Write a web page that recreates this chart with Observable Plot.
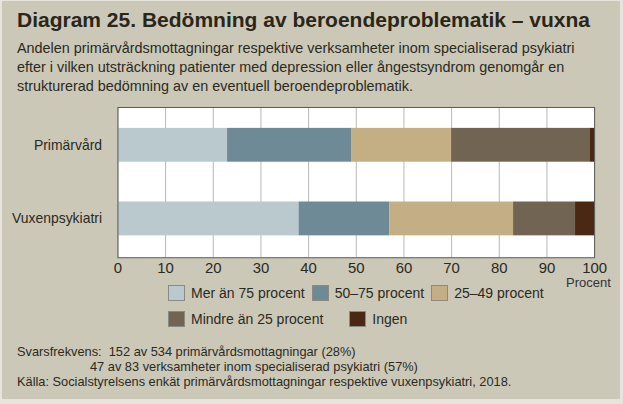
<!DOCTYPE html>
<html>
<head>
<meta charset="utf-8">
<script src="https://cdn.jsdelivr.net/npm/d3@7"></script>
<script src="https://cdn.jsdelivr.net/npm/@observablehq/plot@0.6"></script>
<style>
  html, body { margin: 0; padding: 0; background: #e6e4dc; }
  #box { position: absolute; left: 2px; top: 1px; width: 618px; height: 398px; background: #ccc8b7; overflow: hidden;
         font-family: "Liberation Sans", Arial, sans-serif; color: #222; }
  #title { position: absolute; left: 15px; top: 7px; font-size: 21px; font-weight: bold; color: #2a2618; white-space: nowrap; }
  #subtitle { position: absolute; left: 15px; top: 38px; font-size: 14.4px; line-height: 19px; white-space: nowrap; color: #2a2a22; }
  #chart { position: absolute; left: -2px; top: 101px; }
  #procent { position: absolute; left: 564px; top: 274px; font-size: 13px; color: #333; }
  .lrow { position: absolute; left: 166px; display: flex; align-items: center; font-size: 14px; white-space: nowrap; color: #2a2a22; }
  #row1 { top: 284px; gap: 7px; }
  #row2 { top: 310px; gap: 26px; }
  .item { display: flex; align-items: center; gap: 6px; }
  .sw { width: 17px; height: 16px; border: 1px solid #8a8a84; box-sizing: border-box; }
  #footer { position: absolute; left: 15px; top: 343px; font-size: 12.8px; line-height: 15px; white-space: nowrap; color: #2a2a22; }
</style>
</head>
<body>
<div id="box">
  <div id="title"></div>
  <div id="subtitle"></div>
  <div id="chart"></div>
  <div id="procent"></div>
  <div class="lrow" id="row1"></div>
  <div class="lrow" id="row2"></div>
  <div id="footer"></div>
</div>
<script>
const titleText = "Diagram 25. Bedömning av beroendeproblematik – vuxna";
const subtitleLines = [
  "Andelen primärvårdsmottagningar respektive verksamheter inom specialiserad psykiatri",
  "efter i vilken utsträckning patienter med depression eller ångestsyndrom genomgår en",
  "strukturerad bedömning av en eventuell beroendeproblematik."
];
const categories = ["Primärvård", "Vuxenpsykiatri"];
const levels = ["Mer än 75 procent", "50–75 procent", "25–49 procent", "Mindre än 25 procent", "Ingen"];
const colors = ["#b9c9ce", "#6f8a97", "#c4ae84", "#726453", "#4b2813"];
const primarvard = [23, 26, 21, 29, 1];
const vuxenpsykiatri = [38, 19, 26, 13, 4];
const xTicks = [0, 10, 20, 30, 40, 50, 60, 70, 80, 90, 100];
const xLabel = "Procent";
const footerLines = [
  "Svarsfrekvens:&nbsp; 152 av 534 primärvårdsmottagningar (28%)",
  "<span style=\"padding-left:73px\"></span>47 av 83 verksamheter inom specialiserad psykiatri (57%)",
  "Källa: Socialstyrelsens enkät primärvårdsmottagningar respektive vuxenpsykiatri, 2018."
];

document.getElementById("title").textContent = titleText;
document.getElementById("subtitle").innerHTML = subtitleLines.join("<br>");
document.getElementById("procent").textContent = xLabel;
document.getElementById("footer").innerHTML = footerLines.join("<br>");

const seriesByCat = [primarvard, vuxenpsykiatri];
const data = [];
categories.forEach((c, i) => levels.forEach((l, j) => data.push({cat: c, level: l, value: seriesByCat[i][j]})));

const font = "'Liberation Sans', Arial, sans-serif";
const chart = Plot.plot({
  width: 623,
  height: 186,
  marginTop: 5,
  marginBottom: 30,
  marginLeft: 118,
  marginRight: 26,
  style: {background: "transparent", fontFamily: font, fontSize: "14px", color: "#2a2a22"},
  x: {domain: [0, 100]},
  y: {domain: categories, paddingInner: 0.54, paddingOuter: 0.28},
  color: {domain: levels, range: colors},
  marks: [
    Plot.frame({fill: "white", stroke: null}),
    Plot.gridX(xTicks, {stroke: "#b8b8b8", strokeOpacity: 1}),
    Plot.barX(data, {x: "value", y: "cat", fill: "level"}),
    Plot.frame({stroke: "#5a5a55"}),
    Plot.axisX(xTicks, {tickSize: 0, tickPadding: 5, fontSize: 15, label: null, stroke: null}),
    Plot.axisY({tickSize: 0, tickPadding: 16, fontSize: 14, label: null})
  ]
});
document.getElementById("chart").appendChild(chart);

const rows = [document.getElementById("row1"), document.getElementById("row1"), document.getElementById("row1"),
              document.getElementById("row2"), document.getElementById("row2")];
levels.forEach((l, i) => {
  const item = document.createElement("div");
  item.className = "item";
  const sw = document.createElement("div");
  sw.className = "sw";
  sw.style.background = colors[i];
  const t = document.createElement("span");
  t.textContent = l;
  item.appendChild(sw);
  item.appendChild(t);
  rows[i].appendChild(item);
});
</script>
</body>
</html>
